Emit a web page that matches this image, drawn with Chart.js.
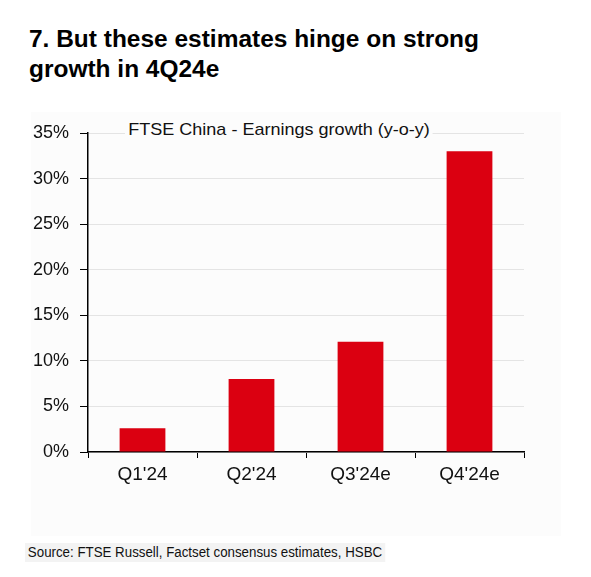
<!DOCTYPE html>
<html>
<head>
<meta charset="utf-8">
<script src="https://cdn.jsdelivr.net/npm/chart.js@4/dist/chart.umd.min.js"></script>
<style>
  body { margin: 0; background: #fff; font-family: "Liberation Sans", Arial, sans-serif; }
  #wrap { position: relative; width: 591px; height: 577px; overflow: hidden; }
  #title { position: absolute; left: 29px; top: 24px; font-size: 23px; font-weight: bold; line-height: 30px; color: #000; white-space: nowrap; transform-origin: 0 0; }
  #panel { position: absolute; left: 31px; top: 112px; width: 530px; height: 424px; background: #fcfcfc; }
  #chart { position: absolute; left: 0; top: 100px; }
  #inner { position: absolute; left: 125px; top: 120px; font-size: 17px; color: #111; background: #fcfcfc; padding: 0 3px; white-space: nowrap; transform-origin: 0 0; }
  #source { position: absolute; left: 25px; top: 543px; height: 19px; line-height: 19px; font-size: 14px; color: #111; background: #f3f3f3; padding: 0 3px; white-space: nowrap; transform-origin: 0 0; }
</style>
</head>
<body>
<div id="wrap">
  <div id="title">7. But these estimates hinge on strong<br>growth in 4Q24e</div>
  <div id="panel"></div>
  <canvas id="chart" width="591" height="420"></canvas>
  <div id="inner">FTSE China - Earnings growth (y-o-y)</div>
  <div id="source">Source: FTSE Russell, Factset consensus estimates, HSBC</div>
</div>
<script>
const quarters = ["Q1'24", "Q2'24", "Q3'24e", "Q4'24e"];
const earningsGrowth = [2.6, 8.0, 12.1, 33.0];
const yTicks = [0, 5, 10, 15, 20, 25, 30, 35];

// squeeze text blocks to the widths seen in the reference
function fitWidth(id, target) {
    const el = document.getElementById(id);
    const w = el.getBoundingClientRect().width;
    el.style.transform = "scaleX(" + (target / w) + ")";
}
fitWidth("title", 450);
fitWidth("source", 360);
fitWidth("inner", 308);

const ctx = document.getElementById("chart").getContext("2d");
new Chart(ctx, {
    type: "bar",
    data: {
        labels: quarters,
        datasets: [{
            label: "FTSE China - Earnings growth (y-o-y)",
            data: earningsGrowth,
            backgroundColor: "#db0011",
            borderWidth: 0,
            barPercentage: 0.42,
            categoryPercentage: 1
        }]
    },
    options: {
        responsive: false,
        animation: false,
        devicePixelRatio: 1,
        layout: { padding: { left: 0, right: 67, top: 33, bottom: 28 } },
        plugins: { legend: { display: false }, tooltip: { enabled: false } },
        scales: {
            x: {
                afterFit: s => { s.height = 40; },
                grid: { offset: true, drawOnChartArea: false, tickLength: 6, tickColor: "#000", tickWidth: 1 },
                border: { display: true, color: "#000", width: 1.5 },
                ticks: { color: "#111", font: { family: "Liberation Sans", size: 19 }, padding: 5 }
            },
            y: {
                min: 0,
                max: 35,
                afterFit: s => { s.width = 88; },
                afterBuildTicks: s => { s.ticks = yTicks.map(v => ({ value: v })); },
                grid: { color: "#e4e4e4", lineWidth: 1, tickLength: 8, tickColor: "#000" },
                border: { display: true, color: "#000", width: 1.5 },
                ticks: {
                    color: "#111",
                    font: { family: "Liberation Sans", size: 18 },
                    padding: 11,
                    callback: v => v + "%"
                }
            }
        }
    }
});
</script>
</body>
</html>
